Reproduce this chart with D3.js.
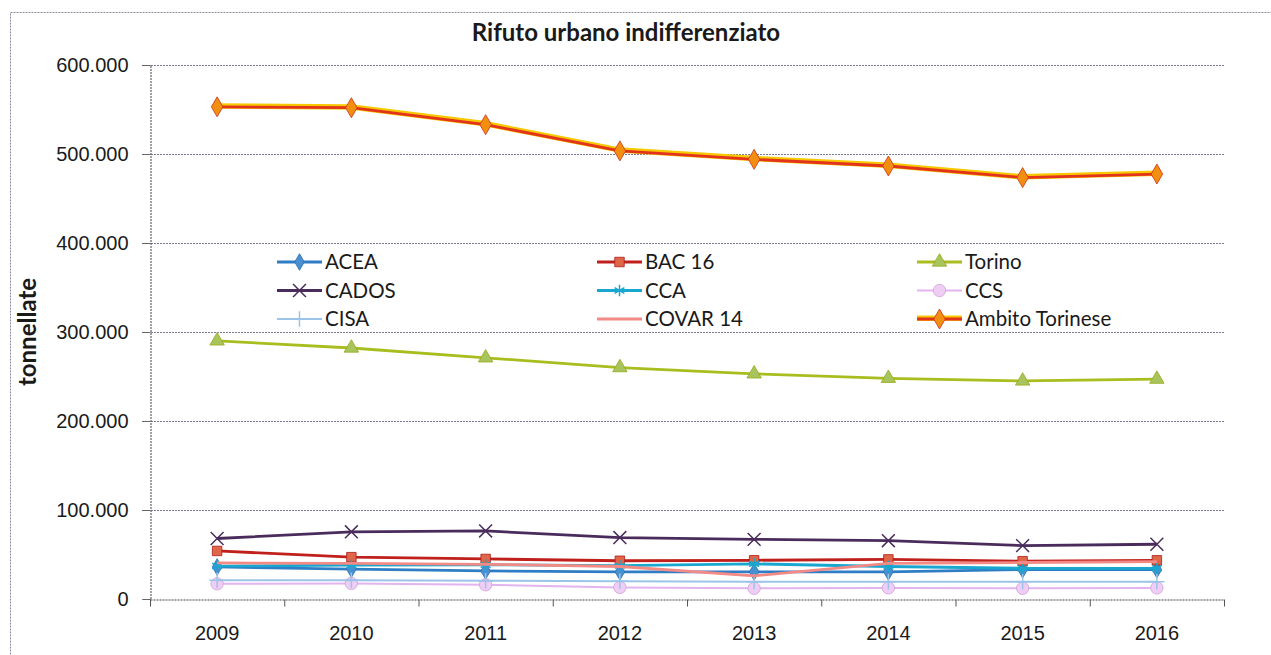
<!DOCTYPE html>
<html>
  <head>
    <title>Rifuto urbano indifferenziato</title>
    <script src="https://d3js.org/d3.v7.min.js"></script>
    <style>
      body { margin: 0; background: #fff; }
      svg { display: block; font-family: Lato, "Open Sans", sans-serif; }
    </style>
  </head>
  <body>
    <svg width="1271" height="655"></svg>
    <script>
      // data (tonnellate)
      var years = ["2009", "2010", "2011", "2012", "2013", "2014", "2015", "2016"];
      var yTicks = [0, 100000, 200000, 300000, 400000, 500000, 600000];

      var acea    = [36000, 33500, 31500, 30500, 30500, 30500, 33000, 33000];
      var bac16   = [54000, 47000, 45000, 43000, 43500, 44500, 42500, 43500];
      var torino  = [290000, 282000, 271000, 260000, 253000, 248000, 245000, 247000];
      var cados   = [68000, 75500, 76500, 69000, 67000, 65500, 60000, 61500];
      var cca     = [37000, 38000, 38500, 37500, 39500, 36500, 34500, 34500];
      var ccs     = [17000, 17500, 16000, 13000, 12000, 12500, 12000, 12500];
      var cisa    = [21000, 21000, 20500, 20000, 19500, 19500, 19500, 19500];
      var covar14 = [40500, 40000, 39000, 36500, 26000, 40000, 41000, 42000];
      var ambito  = [553000, 552000, 533000, 503500, 494000, 486500, 473500, 477500];

      var series = [
        {name: "ACEA", values: acea, color: "#2f7dc4", sym: d3.symbolDiamond, size: 80, fill: "#4a8fd0"},
        {name: "BAC 16", values: bac16, color: "#c0201c", sym: d3.symbolSquare, size: 90, fill: "#e0664a"},
        {name: "Torino", values: torino, color: "#a9bd1e", sym: d3.symbolTriangle, size: 90, fill: "#a8c45c"},
        {name: "CADOS", values: cados, color: "#4a2c5c", sym: d3.symbolTimes, size: 110, fill: "none", strokeSym: true},
        {name: "CCA", values: cca, color: "#1aa7cf", sym: d3.symbolAsterisk, size: 90, fill: "none", strokeSym: true},
        {name: "CCS", values: ccs, color: "#e3b4ef", sym: d3.symbolCircle, size: 120, fill: "#efcdf5", thin: true},
        {name: "CISA", values: cisa, color: "#9cc4e8", sym: d3.symbolPlus, size: 80, fill: "none", strokeSym: true, thin: true},
        {name: "COVAR 14", values: covar14, color: "#f28a86", sym: null},
        {name: "Ambito Torinese", values: ambito, color: "#e2341c", sym: d3.symbolDiamond, size: 115, fill: "#f28f10", halo: "#f7c800"}
      ];

      var svg = d3.select("svg");
      var mLeft = 150, mRight = 1224, mTop = 65, mBottom = 599;

      // outer frame
      svg.append("rect").attr("x", 10.5).attr("y", 12.5).attr("width", 1280).attr("height", 700)
        .attr("fill", "none").attr("stroke", "#8a8aa0").attr("stroke-dasharray", "2,1");

      var x = d3.scaleBand().domain(years).range([mLeft, mRight]);
      var y = d3.scaleLinear().domain([0, 600000]).range([mBottom, mTop]);

      // gridlines
      svg.append("g").selectAll("line").data(yTicks.slice(1)).enter().append("line")
        .attr("x1", mLeft - 8).attr("x2", mRight)
        .attr("y1", function(d) { return Math.round(y(d)) + 0.5; })
        .attr("y2", function(d) { return Math.round(y(d)) + 0.5; })
        .attr("stroke", "#7c7a98").attr("stroke-dasharray", "2,1");

      // y axis
      var yAxis = d3.axisLeft(y).tickValues(yTicks).tickSize(8)
        .tickFormat(function(d) { return d === 0 ? "0" : d3.format(",")(d).replace(/,/g, "."); });
      var gy = svg.append("g").attr("transform", "translate(" + (mLeft + 0.5) + ",0)").call(yAxis);
      gy.select(".domain").attr("stroke", "#444").attr("stroke-dasharray", "2,1");
      gy.selectAll(".tick line").attr("stroke", "#666");
      gy.selectAll("text").attr("font-size", 20).attr("fill", "#1a1a1a").attr("x", -22);

      // x axis
      var xAxis = d3.axisBottom(x).tickSize(0).tickPadding(26);
      var gx = svg.append("g").attr("transform", "translate(0," + (mBottom + 0.5) + ")").call(xAxis);
      gx.select(".domain").attr("stroke", "#444").attr("stroke-dasharray", "2,1");
      gx.selectAll("text").attr("font-size", 20).attr("fill", "#1a1a1a");
      var bounds = years.map(function(d) { return x(d); }).concat([mRight]);
      gx.selectAll(".bound").data(bounds).enter().append("line")
        .attr("x1", function(d) { return d + 0.5; }).attr("x2", function(d) { return d + 0.5; })
        .attr("y1", 0).attr("y2", 7).attr("stroke", "#555");

      // lines
      var line = d3.line()
        .x(function(d, i) { return x(years[i]) + x.bandwidth() / 2; })
        .y(function(d) { return y(d); });

      var plot = svg.append("g");
      series.forEach(function(s) {
        if (s.halo) {
          plot.append("path").attr("d", line(s.values)).attr("fill", "none")
            .attr("stroke", s.halo).attr("stroke-width", 5.5).attr("transform", "translate(0,-0.8)");
        }
        plot.append("path").attr("d", line(s.values)).attr("fill", "none")
          .attr("stroke", s.color).attr("stroke-width", s.thin ? 2 : 2.8);
        if (s.sym) {
          plot.selectAll(null).data(s.values).enter().append("path")
            .attr("d", d3.symbol().type(s.sym).size(s.size))
            .attr("transform", function(d, i) {
              return "translate(" + (x(years[i]) + x.bandwidth() / 2) + "," + y(d) + ")";
            })
            .attr("fill", s.fill)
            .attr("stroke", s.strokeSym ? s.color : d3.color(s.color).darker(0.3))
            .attr("stroke-width", s.strokeSym ? 1.5 : 0.8);
        }
      });

      // legend
      var legend = svg.append("g");
      series.forEach(function(s, i) {
        var lx = 277 + (i % 3) * 320, ly = 262 + Math.floor(i / 3) * 28.5;
        var g = legend.append("g").attr("transform", "translate(" + lx + "," + ly + ")");
        if (s.halo) {
          g.append("line").attr("x1", 0).attr("x2", 45).attr("y1", -0.8).attr("y2", -0.8)
            .attr("stroke", s.halo).attr("stroke-width", 5.5);
        }
        g.append("line").attr("x1", 0).attr("x2", 45).attr("y1", 0).attr("y2", 0)
          .attr("stroke", s.color).attr("stroke-width", s.thin ? 2 : 2.8);
        if (s.sym) {
          g.append("path").attr("d", d3.symbol().type(s.sym).size(s.size))
            .attr("transform", "translate(22.5,0)")
            .attr("fill", s.fill)
            .attr("stroke", s.strokeSym ? s.color : d3.color(s.color).darker(0.3))
            .attr("stroke-width", s.strokeSym ? 1.5 : 0.8);
        }
        g.append("text").attr("x", 48).attr("y", 0).attr("dy", "0.35em")
          .attr("font-size", 20.5).attr("fill", "#1a1a1a").text(s.name);
      });

      // titles
      svg.append("text").attr("x", 626).attr("y", 41).attr("text-anchor", "middle")
        .attr("font-size", 24).attr("font-weight", "bold").attr("fill", "#1a1a1a")
        .text("Rifuto urbano indifferenziato");
      svg.append("text").attr("transform", "translate(36,332) rotate(-90)")
        .attr("text-anchor", "middle").attr("font-size", 24).attr("font-weight", "bold")
        .attr("fill", "#1a1a1a").text("tonnellate");
    </script>
  </body>
</html>
